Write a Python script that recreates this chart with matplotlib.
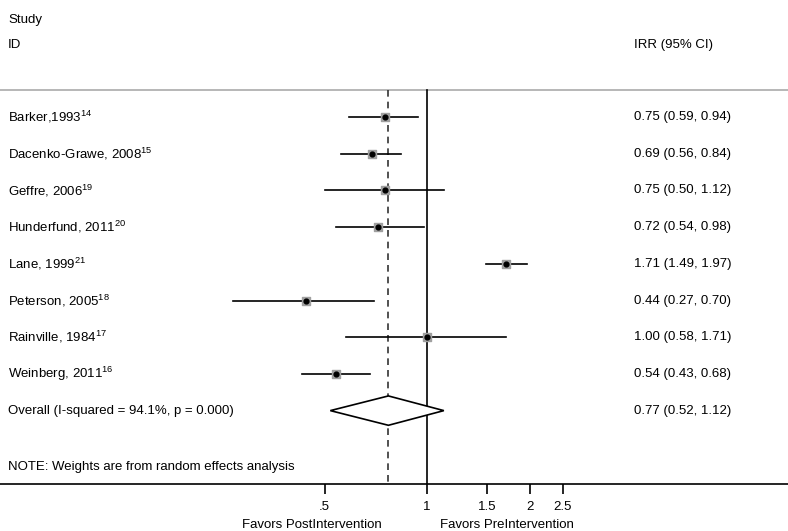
import matplotlib
matplotlib.use("Agg")
import matplotlib.pyplot as plt
import numpy as np

plt.rcParams['font.family'] = ['Liberation Sans', 'DejaVu Sans']
plt.rcParams['mathtext.fontset'] = 'custom'
plt.rcParams['mathtext.rm'] = 'Liberation Sans'

# study data (incidence rate ratios)
studies = ["Barker,1993$^{14}$", "Dacenko-Grawe, 2008$^{15}$", "Geffre, 2006$^{19}$",
           "Hunderfund, 2011$^{20}$", "Lane, 1999$^{21}$", "Peterson, 2005$^{18}$",
           "Rainville, 1984$^{17}$", "Weinberg, 2011$^{16}$"]
irr = [0.75, 0.69, 0.75, 0.72, 1.71, 0.44, 1.00, 0.54]
lo = [0.59, 0.56, 0.50, 0.54, 1.49, 0.27, 0.58, 0.43]
hi = [0.94, 0.84, 1.12, 0.98, 1.97, 0.70, 1.71, 0.68]
overall = (0.77, 0.52, 1.12)
overall_label = "Overall (I-squared = 94.1%, p = 0.000)"
xticks = [0.5, 1, 1.5, 2, 2.5]
xtick_labels = [".5", "1", "1.5", "2", "2.5"]

FS = 9.5

fig = plt.figure(figsize=(7.88, 5.31), dpi=100)
ax = fig.add_axes([0, (531 - 484) / 531, 1, 484 / 531])
ax.set_xscale('log')
ax.set_xlim(0.0558, 11.46)
ax.set_ylim(10.0, -3.19)

for s in ['top', 'left', 'right']:
    ax.spines[s].set_visible(False)
ax.spines['bottom'].set_linewidth(1.2)
ax.set_yticks([])
ax.set_xticks(xticks)
ax.set_xticklabels(xtick_labels, fontsize=FS)
ax.xaxis.set_minor_locator(matplotlib.ticker.NullLocator())
ax.tick_params(axis='x', length=7, width=1.2, pad=5)

# reference lines
ax.axhline(-0.74, color='#aaaaaa', lw=1.2)
ax.plot([1, 1], [-0.74, 10.0], color='black', lw=1.2)
ax.plot([overall[0]] * 2, [-0.74, 10.0], color='#333333', lw=1.2, ls=(0, (4, 3)))

rows = np.arange(len(studies))
for i in rows:
    ax.plot([lo[i], hi[i]], [i, i], color='black', lw=1.2)
ax.scatter(irr, rows, marker='s', s=40, color='#a0a0a0', zorder=3)
ax.scatter(irr, rows, marker='o', s=12, color='black', zorder=4)

# overall diamond
yo = len(studies)
ax.fill([overall[1], overall[0], overall[2], overall[0]],
        [yo, yo - 0.4, yo, yo + 0.4], facecolor='white', edgecolor='black', lw=1.2, zorder=3)

tr = ax.get_yaxis_transform()
xl = 8 / 788
xr = 634 / 788
ax.text(xl, -2.64, "Study", transform=tr, fontsize=FS, va='center')
ax.text(xl, -1.96, "ID", transform=tr, fontsize=FS, va='center')
ax.text(xr, -1.96, "IRR (95% CI)", transform=tr, fontsize=FS, va='center')
for i in rows:
    ax.text(xl, i, studies[i], transform=tr, fontsize=FS, va='center')
    ax.text(xr, i, "%.2f (%.2f, %.2f)" % (irr[i], lo[i], hi[i]), transform=tr, fontsize=FS, va='center')
ax.text(xl, yo, overall_label, transform=tr, fontsize=FS, va='center')
ax.text(xr, yo, "%.2f (%.2f, %.2f)" % overall, transform=tr, fontsize=FS, va='center')
ax.text(xl, 9.54, "NOTE: Weights are from random effects analysis", transform=tr, fontsize=FS, va='center')

# favors labels under the axis
ax.text(0.46, -0.085, "Favors PostIntervention", transform=ax.get_xaxis_transform(),
        fontsize=FS, ha='center', va='center')
ax.text(1.72, -0.085, "Favors PreIntervention", transform=ax.get_xaxis_transform(),
        fontsize=FS, ha='center', va='center')

fig.savefig("out.png", dpi=100)
